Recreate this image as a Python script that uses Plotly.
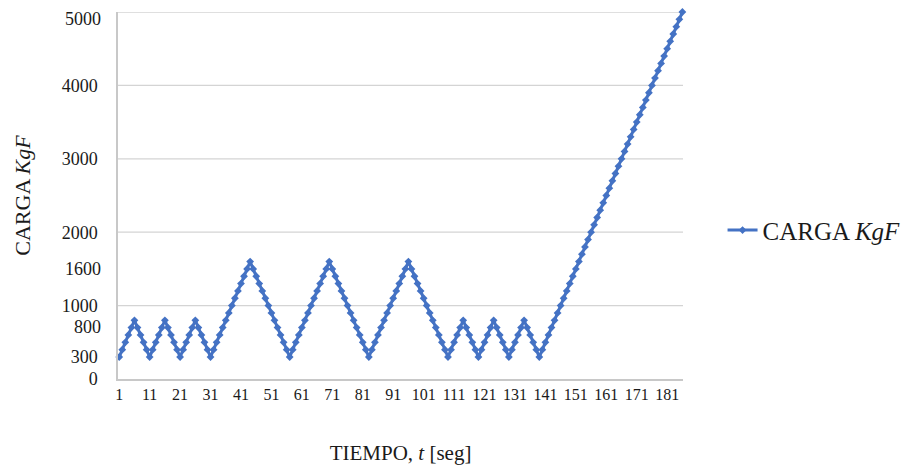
import plotly.graph_objects as go

# Load (KgF) read at each second
carga = [
    300, 400, 500, 600, 700, 800, 700, 600, 500, 400,
    300, 400, 500, 600, 700, 800, 700, 600, 500, 400,
    300, 400, 500, 600, 700, 800, 700, 600, 500, 400,
    300,
    400, 500, 600, 700, 800, 900, 1000, 1100, 1200, 1300, 1400, 1500, 1600,
    1500, 1400, 1300, 1200, 1100, 1000, 900, 800, 700, 600, 500, 400, 300,
    400, 500, 600, 700, 800, 900, 1000, 1100, 1200, 1300, 1400, 1500, 1600,
    1500, 1400, 1300, 1200, 1100, 1000, 900, 800, 700, 600, 500, 400, 300,
    400, 500, 600, 700, 800, 900, 1000, 1100, 1200, 1300, 1400, 1500, 1600,
    1500, 1400, 1300, 1200, 1100, 1000, 900, 800, 700, 600, 500, 400, 300,
    400, 500, 600, 700, 800, 700, 600, 500, 400, 300,
    400, 500, 600, 700, 800, 700, 600, 500, 400, 300,
    400, 500, 600, 700, 800, 700, 600, 500, 400, 300,
    400, 500, 600, 700, 800, 900, 1000, 1100, 1200, 1300,
    1400, 1500, 1600, 1700, 1800, 1900, 2000, 2100, 2200, 2300,
    2400, 2500, 2600, 2700, 2800, 2900, 3000, 3100, 3200, 3300,
    3400, 3500, 3600, 3700, 3800, 3900, 4000, 4100, 4200, 4300,
    4400, 4500, 4600, 4700, 4800, 4900, 5000,
]
tiempo = list(range(1, len(carga) + 1))

x_tick_vals = [1, 11, 21, 31, 41, 51, 61, 71, 81, 91, 101, 111, 121, 131, 141, 151, 161, 171, 181]
y_tick_vals = [0, 300, 1000, 2000, 3000, 4000]
y_extra_labels = [800, 1600]   # load levels labelled a little below their level
y_top_label = 5000
y_grid_vals = [1000, 2000, 3000, 4000, 5000]

serif = "Liberation Serif, Times New Roman, serif"
blue = "#4472C4"
txt = "#1a1a1a"

fig = go.Figure()
fig.add_trace(go.Scatter(
    x=tiempo, y=carga, mode="lines+markers",
    name="CARGA <i>KgF</i>",
    line=dict(color=blue, width=3),
    marker=dict(symbol="diamond", size=6, color=blue),
    cliponaxis=False,
))

for v in y_grid_vals:
    fig.add_hline(y=v, line=dict(color="#D4D4D4", width=1.3), layer="below")

for v in y_extra_labels:
    fig.add_annotation(
        x=0, xref="paper", xanchor="right", xshift=-15,
        y=v, yref="y", yanchor="middle", yshift=-7,
        text=str(v), showarrow=False,
        font=dict(family=serif, size=18, color=txt),
    )

fig.add_annotation(
    x=0, xref="paper", xanchor="right", xshift=-15,
    y=y_top_label, yref="y", yanchor="top", yshift=5,
    text=str(y_top_label), showarrow=False,
    font=dict(family=serif, size=18, color=txt),
)

fig.update_layout(
    width=910, height=462,
    margin=dict(l=110, r=235, t=4, b=91),
    paper_bgcolor="white", plot_bgcolor="white",
    font=dict(family=serif, size=16, color=txt),
    showlegend=True,
    legend=dict(x=1.07, y=0.405, xanchor="left", yanchor="middle",
                font=dict(family=serif, size=25), itemwidth=30,
                bgcolor="rgba(0,0,0,0)"),
    xaxis=dict(
        range=[0.6, 186.2], tickmode="array", tickvals=x_tick_vals,
        ticktext=[str(v) for v in x_tick_vals],
        showgrid=False, zeroline=False, automargin=False,
        showline=True, linecolor="#C8C8C8", linewidth=1.5,
        ticks="", tickfont=dict(family=serif, size=16),
        title=dict(text="TIEMPO, <i>t</i> [seg]", font=dict(family=serif, size=21), standoff=43),
    ),
    yaxis=dict(
        range=[0, 5000], tickmode="array", tickvals=y_tick_vals,
        ticktext=[str(v) for v in y_tick_vals],
        showgrid=False, zeroline=False, automargin=False,
        ticklabeloverflow="allow",
        showline=True, linecolor="#C8C8C8", linewidth=1.5,
        ticks="", tickfont=dict(family=serif, size=18),
        ticklabelstandoff=15,
        title=dict(text="CARGA <i>KgF</i>", font=dict(family=serif, size=22), standoff=25),
    ),
)

fig.write_html("out.html")
